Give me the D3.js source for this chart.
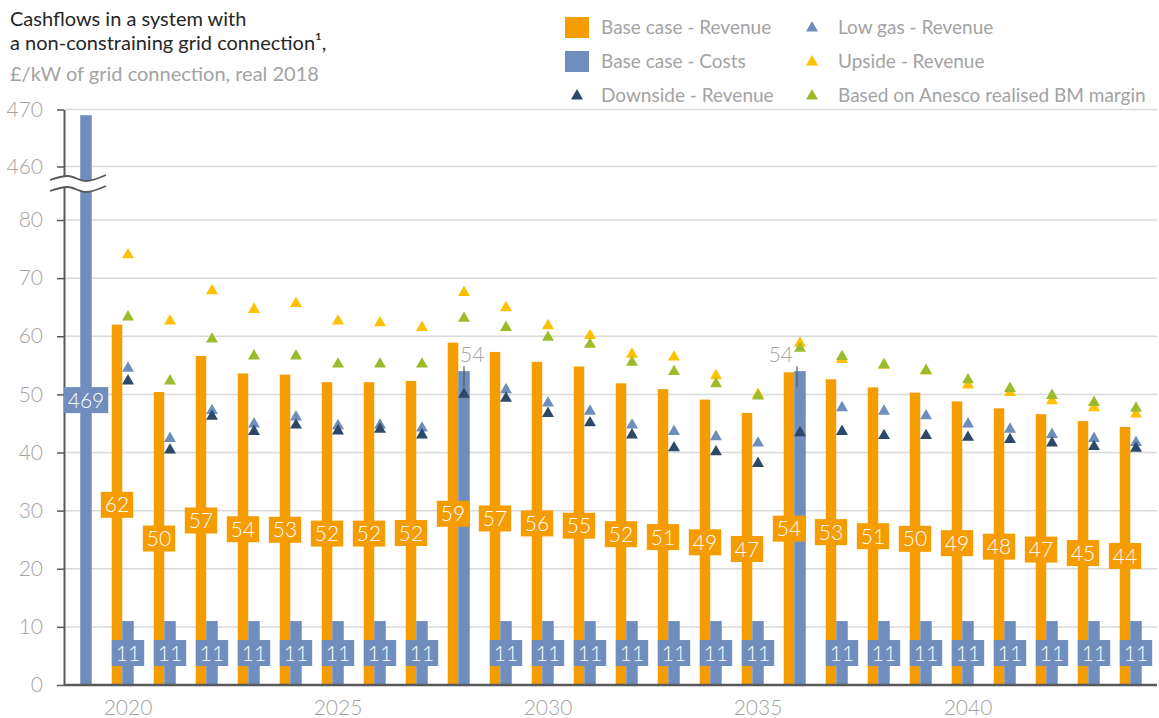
<!DOCTYPE html>
<html>
<head>
<meta charset="utf-8">
<script src="https://cdn.jsdelivr.net/npm/d3@7"></script>
<style>
  body { margin: 0; background: #fff; }
  text { font-family: Lato, "Open Sans", sans-serif; }
</style>
</head>
<body>
<div id="chart"></div>
<script>
// jaren (categorieen) en tick labels
const years = ["2019", "2020", "2021", "2022", "2023", "2024", "2025", "2026", "2027", "2028", "2029", "2030", "2031",
  "2032", "2033", "2034", "2035", "2036", "2037", "2038", "2039", "2040", "2041", "2042", "2043", "2044"]
const xTicks = ["2020", "2025", "2030", "2035", "2040"]
const yTicks = [0, 10, 20, 30, 40, 50, 60, 70, 80, 460, 470]

// base case kolommen
const revenue = [0, 62.0, 50.4, 56.6, 53.6, 53.4, 52.1, 52.1, 52.3, 58.9, 57.3, 55.6, 54.8,
  51.9, 50.9, 49.1, 46.8, 53.8, 52.6, 51.2, 50.3, 48.8, 47.6, 46.6, 45.4, 44.4]
const costs = [469, 11, 11, 11, 11, 11, 11, 11, 11, 54, 11, 11, 11,
  11, 11, 11, 11, 54, 11, 11, 11, 11, 11, 11, 11, 11]

// scenario's (driehoekjes), 2019 heeft geen waarde
const lowGas = [null, 54.8, 42.7, 47.5, 45.2, 46.4, 44.9, 45.0, 44.5, 51.5, 51.1, 48.8, 47.4,
  45.0, 43.9, 43.0, 41.9, 48.5, 48.0, 47.4, 46.6, 45.2, 44.3, 43.4, 42.7, 42.0]
const upside = [null, 74.3, 62.9, 68.1, 64.9, 65.9, 62.9, 62.6, 61.8, 67.8, 65.2, 62.1, 60.4,
  57.2, 56.7, 53.5, 50.3, 59.1, 56.3, 55.3, 54.3, 51.9, 50.6, 49.2, 48.0, 46.9]
const downside = [null, 52.6, 40.7, 46.5, 43.9, 45.0, 44.0, 44.3, 43.3, 50.3, 49.6, 47.0, 45.4,
  43.3, 41.1, 40.4, 38.4, 43.7, 43.9, 43.2, 43.2, 42.9, 42.5, 41.9, 41.3, 41.0]
const anesco = [null, 63.6, 52.6, 59.8, 56.9, 56.9, 55.5, 55.5, 55.5, 63.4, 61.8, 60.1, 58.9,
  55.8, 54.2, 52.1, 50.0, 58.2, 56.8, 55.4, 54.4, 52.8, 51.3, 50.1, 48.9, 47.9]

const colors = {
  revenue: "#f59c00", costs: "#6f8ebd",
  lowGas: "#6f8ebd", upside: "#ffc000", downside: "#2e4869", anesco: "#9bbb2b"
}
const axisColor = "#595959"
const greyText = "#a3a3a3"

const width = 1159
const height = 718
const orangeW = 10.5
const blueW = 11.5

var svg = d3.select("#chart").append("svg")
    .attr("width", width)
    .attr("height", height)

var xScale = d3.scaleBand()
    .domain(years)
    .range([65, 1157])
    .padding(0)

// gebroken as: 0-80 onder, 460-470 boven
var yScale = d3.scaleLinear()
    .domain([0, 80, 460, 470])
    .range([685, 220, 166.5, 109.5])

function center(year) { return xScale(year) + xScale.bandwidth() / 2 }

// gridlijnen
svg.append("g")
    .selectAll("line")
    .data(yTicks.filter(function(d) { return d > 0 }))
    .enter().append("line")
    .attr("x1", 64).attr("x2", 1157)
    .attr("y1", function(d) { return yScale(d) })
    .attr("y2", function(d) { return yScale(d) })
    .attr("stroke", "#d9d9d9")
    .attr("stroke-width", 1.5)

// omzet kolommen
svg.append("g")
    .selectAll("rect")
    .data(years.filter(function(d, i) { return revenue[i] > 0 }))
    .enter().append("rect")
    .attr("x", function(d) { return center(d) - blueW / 2 - orangeW })
    .attr("y", function(d) { return yScale(revenue[years.indexOf(d)]) })
    .attr("width", orangeW)
    .attr("height", function(d) { return yScale(0) - yScale(revenue[years.indexOf(d)]) })
    .attr("fill", colors.revenue)

// kosten kolommen
svg.append("g")
    .selectAll("rect")
    .data(years)
    .enter().append("rect")
    .attr("x", function(d) { return center(d) - blueW / 2 })
    .attr("y", function(d, i) { return yScale(costs[i]) })
    .attr("width", blueW)
    .attr("height", function(d, i) { return yScale(0) - yScale(costs[i]) })
    .attr("fill", colors.costs)

// driehoekjes per scenario (midden van het driehoekje op de waarde)
var triangle = d3.symbol().type(d3.symbolTriangle).size(62)
var scenarios = [
  {values: lowGas, color: colors.lowGas},
  {values: upside, color: colors.upside},
  {values: downside, color: colors.downside},
  {values: anesco, color: colors.anesco}
]
scenarios.forEach(function(s) {
  svg.append("g")
      .selectAll("path")
      .data(years.filter(function(d, i) { return s.values[i] != null }))
      .enter().append("path")
      .attr("d", triangle)
      .attr("transform", function(d) {
        return "translate(" + center(d) + "," + (yScale(s.values[years.indexOf(d)]) + 1.7) + ")"
      })
      .attr("fill", s.color)
})

// y-as
var yAxis = svg.append("g")
    .attr("transform", "translate(64,0)")
    .call(d3.axisLeft(yScale).tickValues(yTicks).tickSize(7).tickSizeOuter(0).tickPadding(14))
yAxis.select(".domain").attr("stroke", axisColor).attr("stroke-width", 2)
yAxis.selectAll(".tick line").attr("stroke", axisColor).attr("stroke-width", 1.5)
yAxis.selectAll(".tick text")
    .attr("fill", greyText)
    .style("font-size", "21px")
    .style("font-weight", 300)

// x-as
var xAxis = svg.append("g")
    .attr("transform", "translate(0,685)")
    .call(d3.axisBottom(xScale).tickValues(xTicks).tickSize(0).tickPadding(15))
xAxis.select(".domain").attr("stroke", axisColor).attr("stroke-width", 2.5)
    .attr("d", "M64,0H1157")
xAxis.selectAll(".tick text")
    .attr("fill", greyText)
    .style("font-size", "21px")
    .style("font-weight", 300)

// asbreuk tussen 80 en 460
var wave = d3.line().curve(d3.curveCatmullRom)
var upperWave = [[50, 180], [68, 176], [86, 181], [106, 175]]
var lowerWave = upperWave.map(function(p) { return [p[0], p[1] + 11] })
svg.append("path")
    .attr("d", wave(upperWave) + "L" + wave(lowerWave.slice().reverse()).slice(1) + "Z")
    .attr("fill", "#fff")
;[upperWave, lowerWave].forEach(function(w) {
  svg.append("path")
      .attr("d", wave(w))
      .attr("fill", "none")
      .attr("stroke", axisColor)
      .attr("stroke-width", 1.8)
})

// data labels in een gekleurd blokje
function boxLabel(g, x, y, value, color) {
  var lab = g.append("g").attr("transform", "translate(" + x + "," + y + ")")
  var rect = lab.append("rect").attr("fill", color)
  var txt = lab.append("text")
      .attr("text-anchor", "middle")
      .attr("dy", "0.36em")
      .attr("fill", "#fff")
      .style("font-size", "21px")
      .style("font-weight", 300)
      .text(d3.format(".0f")(value))
  var w = txt.node().getComputedTextLength() + 8
  rect.attr("x", -w / 2).attr("y", -13).attr("width", w).attr("height", 26)
}

var labels = svg.append("g")
years.forEach(function(d, i) {
  if (revenue[i] > 0) {
    boxLabel(labels, center(d) - blueW / 2 - orangeW / 2, (yScale(revenue[i]) + yScale(0)) / 2, revenue[i], colors.revenue)
  }
})

// kosten labels; 2028 en 2036 staan boven de kolom met een lijntje
const outsideLabel = {
  "2028": {dx: -4, anchor: "start", lx: 0},
  "2036": {dx: -7, anchor: "end", lx: -3}
}
years.forEach(function(d, i) {
  var o = outsideLabel[d]
  if (o) {
    var top = yScale(costs[i])
    labels.append("line")
        .attr("x1", center(d) + o.lx).attr("x2", center(d) + o.lx)
        .attr("y1", top - 5).attr("y2", top + 16)
        .attr("stroke", axisColor)
        .attr("stroke-width", 1.2)
    labels.append("text")
        .attr("x", center(d) + o.dx)
        .attr("y", top - 9)
        .attr("text-anchor", o.anchor)
        .attr("fill", greyText)
        .style("font-size", "21px")
        .style("font-weight", 300)
        .text(d3.format(".0f")(costs[i]))
  } else {
    boxLabel(labels, center(d), (yScale(costs[i]) + yScale(0)) / 2, costs[i], colors.costs)
  }
})

// titel
var title = svg.append("text").attr("x", 10).style("font-size", "20px")
title.append("tspan").attr("x", 10).attr("y", 26).attr("fill", "#262626").text("Cashflows in a system with")
title.append("tspan").attr("x", 10).attr("y", 50).attr("fill", "#262626").text("a non-constraining grid connection\u00b9,")
title.append("tspan").attr("x", 10).attr("y", 81).attr("fill", greyText).text("\u00a3/kW of grid connection, real 2018")

// legenda
const legendNames = ["Base case - Revenue", "Base case - Costs", "Downside - Revenue",
  "Low gas - Revenue", "Upside - Revenue", "Based on Anesco realised BM margin"]
const legendKeys = ["revenue", "costs", "downside", "lowGas", "upside", "anesco"]

var legend = svg.append("g")
legendNames.forEach(function(name, i) {
  var col = Math.floor(i / 3)
  var row = i % 3
  var mx = col == 0 ? 577 : 812
  var ty = 27 + row * 34
  var key = legendKeys[i]
  if (key == "revenue" || key == "costs") {
    legend.append("rect")
        .attr("x", mx - 12).attr("y", ty - 10)
        .attr("width", 24).attr("height", 21)
        .attr("fill", colors[key])
  } else {
    legend.append("path")
        .attr("d", triangle)
        .attr("transform", "translate(" + mx + "," + (ty + 1) + ")")
        .attr("fill", colors[key])
  }
  legend.append("text")
      .attr("x", col == 0 ? 601 : 838)
      .attr("y", ty)
      .attr("dy", "0.35em")
      .attr("fill", greyText)
      .style("font-size", "19px")
      .text(name)
})
</script>
</body>
</html>
